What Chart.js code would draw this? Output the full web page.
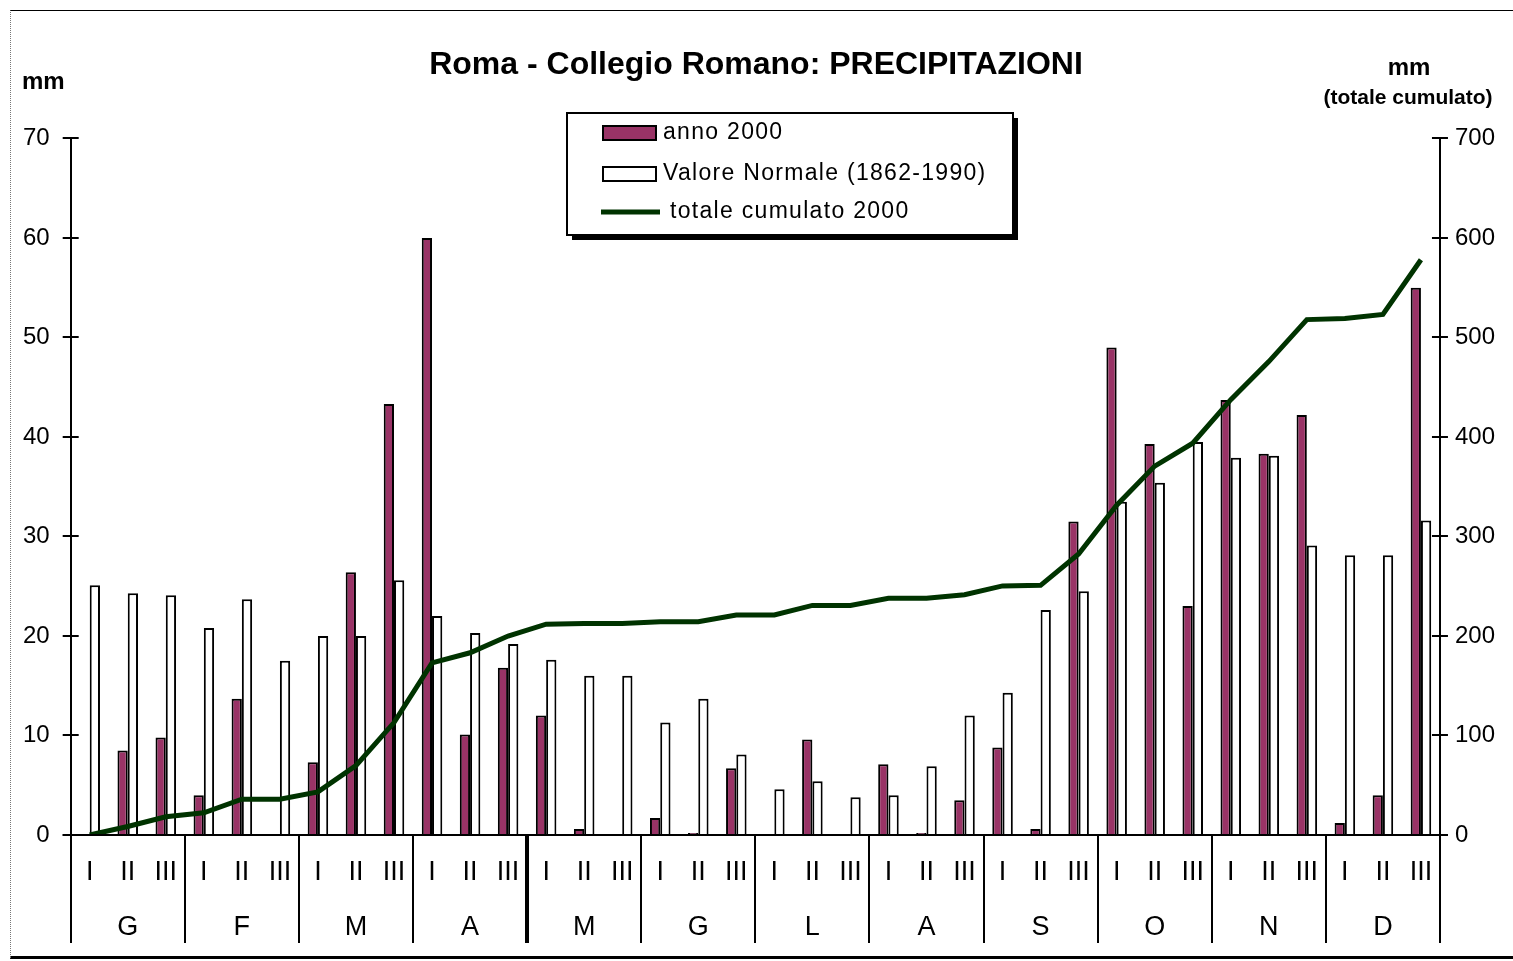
<!DOCTYPE html>
<html>
<head>
<meta charset="utf-8">
<script src="https://cdn.jsdelivr.net/npm/chart.js@4.4.1/dist/chart.umd.min.js"></script>
<style>
  body { margin: 0; background: #fff; overflow: hidden; }
  #wrap { position: relative; width: 1513px; height: 961px; overflow: hidden; }
  #frame {
    position: absolute; left: 10px; top: 10px; width: 1510px; height: 945px;
    border-top: 1px solid #000; border-left: 1px dotted #777; border-bottom: 3px solid #000;
    pointer-events: none;
  }
</style>
</head>
<body>
<div id="wrap">
  <canvas id="myChart" width="1513" height="965"></canvas>
  <div id="frame"></div>
</div>
<script>
const months = ["G", "F", "M", "A", "M", "G", "L", "A", "S", "O", "N", "D"];
const decades = ["I", "II", "III"];

// precipitazioni per decade, anno 2000 (mm)
const anno2000 = [
  0, 8.5, 9.8,
  4.0, 13.7, 0,
  7.3, 26.4, 43.3,
  60.0, 10.1, 16.8,
  12.0, 0.6, 0,
  1.7, 0.2, 6.7,
  0, 9.6, 0,
  7.1, 0.2, 3.5,
  8.8, 0.6, 31.5,
  49.0, 39.3, 23.0,
  43.7, 38.3, 42.2,
  1.2, 4.0, 55.0
];

// valore normale 1862-1990 (mm)
const normale = [
  25.1, 24.3, 24.1,
  20.8, 23.7, 17.5,
  20.0, 20.0, 25.6,
  22.0, 20.3, 19.2,
  17.6, 16.0, 16.0,
  11.3, 13.7, 8.1,
  4.6, 5.4, 3.8,
  4.0, 6.9, 12.0,
  14.3, 22.6, 24.5,
  33.5, 35.4, 39.5,
  37.9, 38.1, 29.1,
  28.1, 28.1, 31.6
];

// totale cumulato 2000 (mm, asse destro)
const cumulato = [
  0, 8.5, 18.3,
  22.3, 36.0, 36.0,
  43.3, 69.7, 113.0,
  173.0, 183.1, 199.9,
  211.9, 212.5, 212.5,
  214.2, 214.4, 221.1,
  221.1, 230.7, 230.7,
  237.8, 238.0, 241.5,
  250.3, 250.9, 282.4,
  331.4, 370.7, 393.7,
  437.4, 475.7, 517.9,
  519.1, 523.1, 578.1
];

const maroon = "#993366";
const green = "#003300";
const font = "'Liberation Sans', Arial, sans-serif";

let labels = [];
months.forEach(m => {
  decades.forEach((d, i) => {
    labels.push([d, i === 1 ? m : ""]);
  });
});

// month separators, inner half of the tick marks, the legend box and the axis titles
const extras = {
  id: "extras",
  afterDraw(chart) {
    const c = chart.ctx;
    const x = chart.scales.x;
    const y = chart.scales.y;
    const y1 = chart.scales.y1;
    const area = chart.chartArea;
    c.save();
    c.strokeStyle = "#000";
    c.lineWidth = 2;
    y.ticks.forEach(t => {
      const py = Math.round(y.getPixelForValue(t.value));
      c.beginPath(); c.moveTo(area.left, py); c.lineTo(area.left + 8, py); c.stroke();
    });
    y1.ticks.forEach(t => {
      const py = Math.round(y1.getPixelForValue(t.value));
      c.beginPath(); c.moveTo(area.right - 8, py); c.lineTo(area.right, py); c.stroke();
    });
    // zero line reaches both outer ticks
    c.beginPath(); c.moveTo(area.left - 8, area.bottom); c.lineTo(area.right + 8, area.bottom); c.stroke();

    for (let i = 0; i <= months.length; i++) {
      const px = Math.round(x.getPixelForValue(i * 3 - 0.5));
      c.lineWidth = i === 4 ? 4 : 2;
      c.beginPath(); c.moveTo(px, area.bottom); c.lineTo(px, 943); c.stroke();
    }

    // axis titles
    c.fillStyle = "#000";
    c.textBaseline = "middle";
    c.font = "bold 24px " + font;
    c.textAlign = "left";
    c.fillText("mm", 22, 82);
    c.textAlign = "center";
    c.fillText("mm", 1409, 68);
    c.font = "bold 21px " + font;
    c.fillText("(totale cumulato)", 1408, 98);

    // legend
    const lx = 567, ly = 113, lw = 446, lh = 122;
    c.lineWidth = 2;
    c.fillStyle = "#000";
    c.fillRect(lx + 5, ly + 5, lw, lh);
    c.fillStyle = "#fff";
    c.fillRect(lx, ly, lw, lh);
    c.strokeRect(lx, ly, lw, lh);

    c.fillStyle = maroon;
    c.fillRect(603, 126, 53, 14);
    c.strokeRect(603, 126, 53, 14);
    c.fillStyle = "#fff";
    c.fillRect(603, 167, 53, 14);
    c.strokeRect(603, 167, 53, 14);
    c.strokeStyle = green;
    c.lineWidth = 5;
    c.beginPath(); c.moveTo(601, 212); c.lineTo(660, 212); c.stroke();

    c.fillStyle = "#000";
    c.textAlign = "left";
    c.font = "23px " + font;
    c.letterSpacing = "1.3px";
    c.fillText("anno 2000", 663, 133);
    c.fillText("Valore Normale (1862-1990)", 663, 174);
    c.fillText("totale cumulato 2000", 670, 212);
    c.restore();
  }
};

const ctx = document.querySelector("#myChart");

let myChart = new Chart(ctx, {
  type: "bar",
  data: {
    labels: labels,
    datasets: [
      {
        type: "line",
        label: "totale cumulato 2000",
        data: cumulato,
        yAxisID: "y1",
        borderColor: green,
        borderWidth: 5,
        pointRadius: 0,
        tension: 0,
        order: 0
      },
      {
        label: "anno 2000",
        data: anno2000,
        yAxisID: "y",
        backgroundColor: maroon,
        borderColor: "#000",
        borderWidth: 2,
        categoryPercentage: 0.54,
        barPercentage: 1,
        order: 1
      },
      {
        label: "Valore Normale (1862-1990)",
        data: normale,
        yAxisID: "y",
        backgroundColor: "#fff",
        borderColor: "#000",
        borderWidth: 2,
        categoryPercentage: 0.54,
        barPercentage: 1,
        order: 2
      }
    ]
  },
  options: {
    responsive: false,
    animation: false,
    layout: { padding: { left: 10, right: 11, top: 0, bottom: 0 } },
    plugins: {
      legend: { display: false },
      tooltip: { enabled: false },
      title: {
        display: true,
        text: "Roma - Collegio Romano: PRECIPITAZIONI",
        color: "#000",
        font: { family: font, size: 32, weight: "bold", lineHeight: 1.2 },
        padding: { top: 46, bottom: 54 }
      }
    },
    scales: {
      x: {
        offset: true,
        grid: { display: false, drawTicks: false },
        border: { display: true, color: "#000", width: 2 },
        ticks: {
          color: "#000",
          padding: 10,
          maxRotation: 0,
          autoSkip: false,
          font: { family: font, size: 27, lineHeight: "55px" }
        }
      },
      y: {
        position: "left",
        min: 0,
        max: 70,
        ticks: {
          stepSize: 10,
          color: "#000",
          padding: 13,
          font: { family: font, size: 24 }
        },
        grid: { drawOnChartArea: false, tickLength: 8, color: "#000", lineWidth: 2 },
        border: { display: true, color: "#000", width: 2 }
      },
      y1: {
        position: "right",
        min: 0,
        max: 700,
        ticks: {
          stepSize: 100,
          color: "#000",
          padding: 7,
          font: { family: font, size: 24 }
        },
        grid: { drawOnChartArea: false, tickLength: 8, color: "#000", lineWidth: 2 },
        border: { display: true, color: "#000", width: 2 }
      }
    }
  },
  plugins: [extras]
});
</script>
</body>
</html>
